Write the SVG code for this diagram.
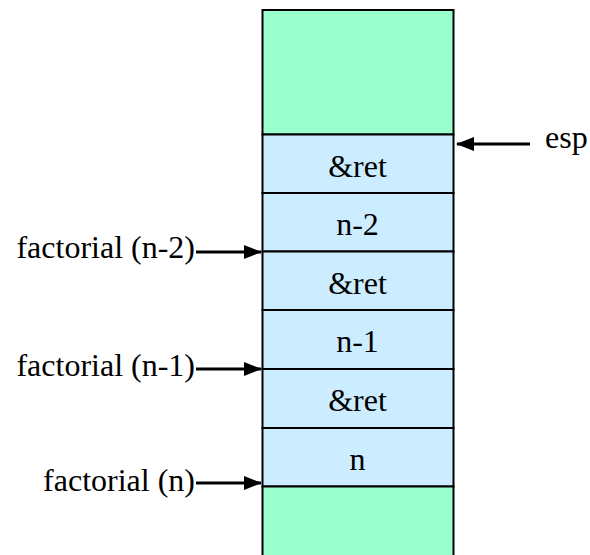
<svg xmlns="http://www.w3.org/2000/svg" width="590" height="555" viewBox="0 0 590 555">
<style>
.g{fill:#99FFCC;stroke:#000;stroke-width:2}
.c{fill:#CCECFF;stroke:#000;stroke-width:2}
.t{font-family:"Liberation Serif","Times New Roman",serif;font-size:32px;fill:#000}
.m{text-anchor:middle}
.e{text-anchor:end}
.a{stroke:#000;stroke-width:3;fill:none;marker-end:url(#ah)}
</style>
<defs>
<marker id="ah" markerUnits="userSpaceOnUse" markerWidth="18" markerHeight="14" refX="17" refY="7" orient="auto">
<path d="M0,0 L18,7 L0,14 Z" fill="#000"/>
</marker>
</defs>
<rect width="590" height="555" fill="#fff"/>
<g id="free-top"><rect class="g" x="262.5" y="10" width="191" height="124.5"/></g>
<g id="cell-ret1"><rect class="c" x="262.5" y="134.5" width="191" height="58.5"/><text class="t m" x="357.5" y="177">&amp;ret</text></g>
<g id="cell-n2"><rect class="c" x="262.5" y="193" width="191" height="58.5"/><text class="t m" x="357.5" y="235">n-2</text></g>
<g id="cell-ret2"><rect class="c" x="262.5" y="251.5" width="191" height="58.5"/><text class="t m" x="357.5" y="294">&amp;ret</text></g>
<g id="cell-n1"><rect class="c" x="262.5" y="310" width="191" height="59"/><text class="t m" x="357.5" y="352">n-1</text></g>
<g id="cell-ret3"><rect class="c" x="262.5" y="369" width="191" height="59"/><text class="t m" x="357.5" y="411">&amp;ret</text></g>
<g id="cell-n"><rect class="c" x="262.5" y="428" width="191" height="58.5"/><text class="t m" x="357.5" y="470">n</text></g>
<g id="free-bottom"><rect class="g" x="262.5" y="486.5" width="191" height="80"/></g>
<g id="label-esp"><text class="t" x="545" y="148">esp</text></g>
<g id="label-f2"><text class="t e" x="195" y="258">factorial (n-2)</text></g>
<g id="label-f1"><text class="t e" x="195" y="376">factorial (n-1)</text></g>
<g id="label-f0"><text class="t e" x="195" y="491">factorial (n)</text></g>
<g id="connectors">
<line class="a" x1="530" y1="144" x2="457" y2="144"/>
<line class="a" x1="196" y1="252" x2="261" y2="252"/>
<line class="a" x1="196" y1="369" x2="261" y2="369"/>
<line class="a" x1="196" y1="483" x2="261" y2="483"/>
</g>
</svg>
